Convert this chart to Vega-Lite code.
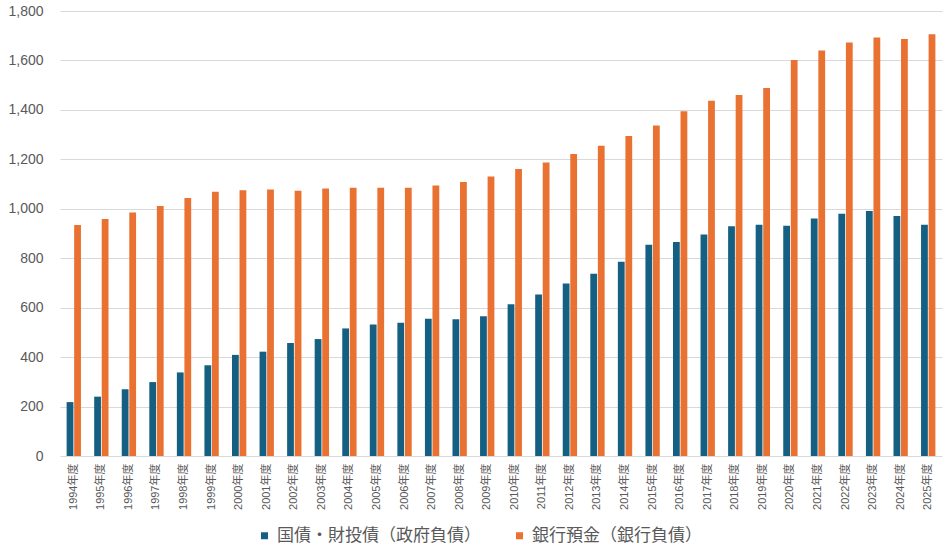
{
  "$schema": "https://vega.github.io/schema/vega-lite/v6.json",
  "description": "国債・財投債と銀行預金の推移",
  "autosize": {"type": "none"},
  "padding": {"left": 60, "top": 11, "right": 7, "bottom": 99},
  "width": 882,
  "height": 445,
  "background": "#ffffff",
  "config": {
    "view": {"stroke": null},
    "font": "Liberation Sans, Noto Sans CJK JP",
    "axis": {"labelColor": "#595959", "labelFont": "Liberation Sans, Noto Sans CJK JP"},
    "legend": {"labelColor": "#595959", "labelFont": "Liberation Sans, Noto Sans CJK JP"}
  },
  "data": {
    "values": [
      {"year": "1994年度", "series": "国債・財投債（政府負債）", "value": 218},
      {"year": "1995年度", "series": "国債・財投債（政府負債）", "value": 240},
      {"year": "1996年度", "series": "国債・財投債（政府負債）", "value": 270},
      {"year": "1997年度", "series": "国債・財投債（政府負債）", "value": 299},
      {"year": "1998年度", "series": "国債・財投債（政府負債）", "value": 338},
      {"year": "1999年度", "series": "国債・財投債（政府負債）", "value": 367},
      {"year": "2000年度", "series": "国債・財投債（政府負債）", "value": 409},
      {"year": "2001年度", "series": "国債・財投債（政府負債）", "value": 422},
      {"year": "2002年度", "series": "国債・財投債（政府負債）", "value": 457},
      {"year": "2003年度", "series": "国債・財投債（政府負債）", "value": 473},
      {"year": "2004年度", "series": "国債・財投債（政府負債）", "value": 516},
      {"year": "2005年度", "series": "国債・財投債（政府負債）", "value": 532},
      {"year": "2006年度", "series": "国債・財投債（政府負債）", "value": 539},
      {"year": "2007年度", "series": "国債・財投債（政府負債）", "value": 555},
      {"year": "2008年度", "series": "国債・財投債（政府負債）", "value": 553},
      {"year": "2009年度", "series": "国債・財投債（政府負債）", "value": 565},
      {"year": "2010年度", "series": "国債・財投債（政府負債）", "value": 614},
      {"year": "2011年度", "series": "国債・財投債（政府負債）", "value": 653},
      {"year": "2012年度", "series": "国債・財投債（政府負債）", "value": 698},
      {"year": "2013年度", "series": "国債・財投債（政府負債）", "value": 737},
      {"year": "2014年度", "series": "国債・財投債（政府負債）", "value": 786},
      {"year": "2015年度", "series": "国債・財投債（政府負債）", "value": 854},
      {"year": "2016年度", "series": "国債・財投債（政府負債）", "value": 866},
      {"year": "2017年度", "series": "国債・財投債（政府負債）", "value": 896},
      {"year": "2018年度", "series": "国債・財投債（政府負債）", "value": 929},
      {"year": "2019年度", "series": "国債・財投債（政府負債）", "value": 935},
      {"year": "2020年度", "series": "国債・財投債（政府負債）", "value": 931},
      {"year": "2021年度", "series": "国債・財投債（政府負債）", "value": 961},
      {"year": "2022年度", "series": "国債・財投債（政府負債）", "value": 980},
      {"year": "2023年度", "series": "国債・財投債（政府負債）", "value": 991},
      {"year": "2024年度", "series": "国債・財投債（政府負債）", "value": 971},
      {"year": "2025年度", "series": "国債・財投債（政府負債）", "value": 935},
      {"year": "1994年度", "series": "銀行預金（銀行負債）", "value": 934},
      {"year": "1995年度", "series": "銀行預金（銀行負債）", "value": 959},
      {"year": "1996年度", "series": "銀行預金（銀行負債）", "value": 985},
      {"year": "1997年度", "series": "銀行預金（銀行負債）", "value": 1011},
      {"year": "1998年度", "series": "銀行預金（銀行負債）", "value": 1044},
      {"year": "1999年度", "series": "銀行預金（銀行負債）", "value": 1069},
      {"year": "2000年度", "series": "銀行預金（銀行負債）", "value": 1075},
      {"year": "2001年度", "series": "銀行預金（銀行負債）", "value": 1078},
      {"year": "2002年度", "series": "銀行預金（銀行負債）", "value": 1073},
      {"year": "2003年度", "series": "銀行預金（銀行負債）", "value": 1082},
      {"year": "2004年度", "series": "銀行預金（銀行負債）", "value": 1085},
      {"year": "2005年度", "series": "銀行預金（銀行負債）", "value": 1085},
      {"year": "2006年度", "series": "銀行預金（銀行負債）", "value": 1085},
      {"year": "2007年度", "series": "銀行預金（銀行負債）", "value": 1094},
      {"year": "2008年度", "series": "銀行預金（銀行負債）", "value": 1108},
      {"year": "2009年度", "series": "銀行預金（銀行負債）", "value": 1131},
      {"year": "2010年度", "series": "銀行預金（銀行負債）", "value": 1161},
      {"year": "2011年度", "series": "銀行預金（銀行負債）", "value": 1187},
      {"year": "2012年度", "series": "銀行預金（銀行負債）", "value": 1222},
      {"year": "2013年度", "series": "銀行預金（銀行負債）", "value": 1255},
      {"year": "2014年度", "series": "銀行預金（銀行負債）", "value": 1294},
      {"year": "2015年度", "series": "銀行預金（銀行負債）", "value": 1337},
      {"year": "2016年度", "series": "銀行預金（銀行負債）", "value": 1395},
      {"year": "2017年度", "series": "銀行預金（銀行負債）", "value": 1437},
      {"year": "2018年度", "series": "銀行預金（銀行負債）", "value": 1460},
      {"year": "2019年度", "series": "銀行預金（銀行負債）", "value": 1489},
      {"year": "2020年度", "series": "銀行預金（銀行負債）", "value": 1602},
      {"year": "2021年度", "series": "銀行預金（銀行負債）", "value": 1640},
      {"year": "2022年度", "series": "銀行預金（銀行負債）", "value": 1673},
      {"year": "2023年度", "series": "銀行預金（銀行負債）", "value": 1693},
      {"year": "2024年度", "series": "銀行預金（銀行負債）", "value": 1687},
      {"year": "2025年度", "series": "銀行預金（銀行負債）", "value": 1706}
    ]
  },
  "mark": {"type": "bar"},
  "encoding": {
    "x": {
      "field": "year",
      "type": "nominal",
      "sort": null,
      "scale": {"paddingInner": 0.48, "paddingOuter": 0.24},
      "axis": {
        "title": null,
        "labelAngle": -90,
        "labelFontSize": 11,
        "labelPadding": 7,
        "ticks": false,
        "domain": false
      }
    },
    "xOffset": {
      "field": "series",
      "type": "nominal",
      "sort": ["国債・財投債（政府負債）", "銀行預金（銀行負債）"],
      "scale": {"paddingInner": 0.1}
    },
    "y": {
      "field": "value",
      "type": "quantitative",
      "scale": {"domain": [0, 1800], "nice": false},
      "axis": {
        "title": null,
        "values": [0, 200, 400, 600, 800, 1000, 1200, 1400, 1600, 1800],
        "format": ",d",
        "labelFontSize": 14,
        "labelPadding": 17,
        "ticks": false,
        "domain": false,
        "grid": true,
        "gridColor": "#d9d9d9",
        "gridWidth": 1
      }
    },
    "color": {
      "field": "series",
      "type": "nominal",
      "scale": {
        "domain": ["国債・財投債（政府負債）", "銀行預金（銀行負債）"],
        "range": ["#156082", "#e97132"]
      },
      "legend": {
        "title": null,
        "orient": "none",
        "direction": "horizontal",
        "legendX": 196,
        "legendY": 516,
        "symbolType": "square",
        "symbolSize": 49,
        "symbolStrokeWidth": 0,
        "labelFontSize": 17,
        "labelOffset": 4,
        "labelLimit": 400,
        "columnPadding": 30,
        "padding": 0
      }
    }
  }
}
